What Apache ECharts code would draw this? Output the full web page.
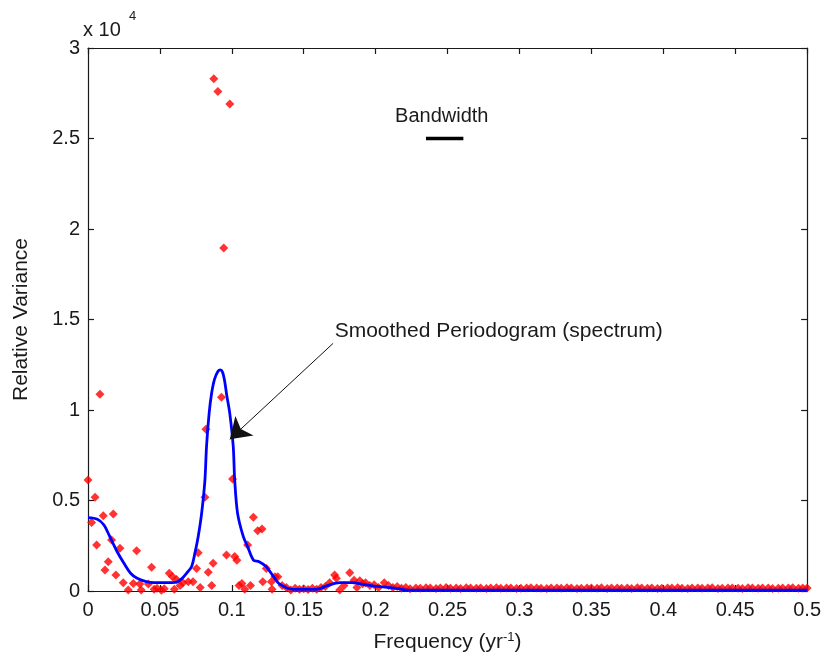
<!DOCTYPE html>
<html>
<head>
    <meta charset="UTF-8">
    <title>Smoothed Periodogram</title>
    <script src="https://cdn.jsdelivr.net/npm/echarts@6/dist/echarts.min.js"></script>
    <style>
        html, body { margin: 0; padding: 0; background: #fff; }
    </style>
</head>
<body>
<div id="main" style="width: 824px; height: 662px;"></div>
<script>
    // raw periodogram (red dots)
    var periodFreq = [
        0.000, 0.0025, 0.0049, 0.006, 0.0083, 0.0106, 0.0118, 0.0141, 0.0164, 0.0176,
        0.0194, 0.0222, 0.0245, 0.028, 0.0315, 0.0338, 0.036, 0.037, 0.042, 0.0442,
        0.046, 0.048, 0.051, 0.053, 0.0565, 0.0588, 0.060, 0.0616, 0.064, 0.066,
        0.0697, 0.073, 0.0755, 0.0766, 0.078, 0.0813, 0.082, 0.0836, 0.086, 0.087,
        0.0875, 0.0903, 0.0928, 0.0944, 0.0963, 0.0986, 0.1005, 0.102, 0.1035, 0.105,
        0.107, 0.109, 0.111, 0.113, 0.115, 0.118, 0.121, 0.1215, 0.124, 0.1275,
        0.128, 0.130, 0.132, 0.135, 0.138, 0.141, 0.144, 0.147, 0.150, 0.153,
        0.156, 0.159, 0.162, 0.165, 0.168, 0.1715, 0.1727, 0.175, 0.178, 0.182,
        0.185, 0.187, 0.189, 0.191, 0.193, 0.196, 0.199, 0.202, 0.206, 0.209,
        0.212, 0.215, 0.218, 0.221, 0.224,
        0.228, 0.231, 0.235, 0.238, 0.242, 0.245, 0.249, 0.252, 0.256, 0.259,
        0.263, 0.266, 0.270, 0.273, 0.277, 0.280, 0.284, 0.287, 0.291, 0.294,
        0.298, 0.301, 0.305, 0.308, 0.312, 0.315, 0.319, 0.322, 0.326, 0.329,
        0.333, 0.336, 0.340, 0.343, 0.347, 0.350, 0.354, 0.357, 0.361, 0.364,
        0.368, 0.371, 0.375, 0.378, 0.382, 0.385, 0.389, 0.392, 0.396, 0.399,
        0.403, 0.406, 0.410, 0.413, 0.417, 0.420, 0.424, 0.427, 0.431, 0.434,
        0.438, 0.441, 0.445, 0.448, 0.452, 0.455, 0.459, 0.462, 0.466, 0.469,
        0.473, 0.476, 0.480, 0.483, 0.487, 0.490, 0.494, 0.497, 0.500
    ];
    var periodPower = [
        6130, 3790, 5180, 2540, 10870, 4160, 1160, 1620, 2820, 4250,
        880, 2360, 460, 50, 420, 2230, 390, 50, 390, 1310,
        100, 150, 40, 120, 980, 790, 100, 640, 300, 450,
        510, 510, 1250, 2120, 200, 5180, 8930, 1030, 300, 1530,
        28300, 27600, 10700, 18950, 1990, 26900, 6190, 1900, 1700, 300,
        420, 100, 2540, 300, 4070, 3330, 3430, 510, 1250, 510,
        100, 790, 790, 300, 200, 50, 150, 100, 120, 80,
        150, 100, 200, 250, 450, 880, 700, 50, 300, 1010,
        600, 200, 570, 400, 450, 300, 350, 200, 460, 300,
        200, 250, 150, 200, 120,
        170, 150, 180, 160, 140, 170, 190, 150, 160, 140,
        180, 160, 150, 170, 140, 160, 180, 150, 170, 160,
        140, 150, 170, 180, 160, 150, 140, 170, 160, 150,
        180, 160, 140, 150, 170, 160, 150, 180, 140, 160,
        170, 150, 160, 140, 180, 170, 150, 160, 140, 150,
        170, 160, 180, 150, 140, 160, 170, 150, 160, 180,
        140, 150, 170, 160, 150, 140, 180, 160, 150, 170,
        160, 140, 150, 170, 160, 180, 150, 160, 170
    ];

    // smoothed spectrum (blue line)
    var spectrumFreq = [
        0, 0.0065, 0.011, 0.0146, 0.0169, 0.0203, 0.025, 0.0296, 0.0342, 0.0412,
        0.0528, 0.062, 0.0655, 0.0685, 0.072, 0.0743, 0.0766, 0.079, 0.0813, 0.0824,
        0.0842, 0.0859, 0.088, 0.0905, 0.092, 0.0935, 0.095, 0.0965, 0.0986, 0.101,
        0.102, 0.104, 0.108, 0.111, 0.115, 0.119, 0.124, 0.129, 0.133, 0.1426,
        0.159, 0.166, 0.175, 0.184, 0.191, 0.203, 0.214, 0.221, 0.25, 0.3,
        0.4, 0.5
    ];
    var spectrumPower = [
        4050, 3960, 3650, 3100, 2720, 2170, 1530, 980, 700, 510,
        460, 510, 700, 980, 1340, 2080, 3000, 4290, 6130, 7970,
        9800, 10900, 11700, 12150, 12220, 12100, 11600, 10800, 9800, 7970,
        6130, 4290, 3000, 2450, 1710, 1620, 1340, 790, 390, 90,
        90, 280, 460, 460, 370, 240, 150, 60, 50, 50,
        50, 50
    ];

    // bandwidth bar
    var bandFreq = [0.235, 0.261];
    var bandLevel = 25000;

    var yTicks = [0, 5000, 10000, 15000, 20000, 25000, 30000];

    var font = 'Liberation Sans, Arial, sans-serif';
    var ink = '#1a1a1a';

    var dots = periodFreq.map(function (f, i) { return [f, periodPower[i]]; });
    var curve = spectrumFreq.map(function (f, i) { return [f, spectrumPower[i]]; });
    var band = bandFreq.map(function (f) { return [f, bandLevel]; });

    var chart = echarts.init(document.getElementById('main'), null, {renderer: 'canvas'});

    // top and right axes only close the box
    var frameAxis = {
        axisLine: {show: true, onZero: false, lineStyle: {color: ink, width: 1.2}},
        axisTick: {show: true, inside: true, length: 6, lineStyle: {color: ink, width: 1.2}},
        axisLabel: {show: false},
        splitLine: {show: false}
    };

    var option = {
        animation: false,
        backgroundColor: '#fff',
        textStyle: {fontFamily: font},
        grid: {left: 88, right: 16, top: 48, bottom: 71, containLabel: false},
        xAxis: [
            {
                type: 'value', min: 0, max: 0.5, interval: 0.05, position: 'bottom',
                axisLine: {show: true, onZero: false, lineStyle: {color: ink, width: 1.2}},
                axisTick: {show: true, inside: true, length: 6, lineStyle: {color: ink, width: 1.2}},
                axisLabel: {color: ink, fontSize: 20, fontFamily: font, margin: 9,
                    formatter: function (v) { return String(Math.round(v * 100) / 100); }},
                splitLine: {show: false},
                name: '{t|Frequency (yr}{s|-1}{t|)}',
                nameLocation: 'middle',
                nameGap: 40,
                nameTextStyle: {
                    rich: {
                        t: {fontSize: 21, color: ink, fontFamily: font},
                        s: {fontSize: 13, color: ink, fontFamily: font, verticalAlign: 'top', padding: [0, 0, 10, 0]}
                    }
                }
            },
            Object.assign({type: 'value', min: 0, max: 0.5, interval: 0.05, position: 'top'}, frameAxis)
        ],
        yAxis: [
            {
                type: 'value', min: 0, max: 30000, interval: 5000, position: 'left',
                axisLine: {show: true, onZero: false, lineStyle: {color: ink, width: 1.2}},
                axisTick: {show: true, inside: true, length: 6, lineStyle: {color: ink, width: 1.2}},
                axisLabel: {color: ink, fontSize: 20, fontFamily: font, margin: 8,
                    formatter: function (v) { return yTicks.indexOf(v) >= 0 ? String(v / 10000) : ''; }},
                splitLine: {show: false},
                name: 'Relative Variance',
                nameLocation: 'middle',
                nameGap: 56,
                nameTextStyle: {fontSize: 21, color: ink, fontFamily: font}
            },
            Object.assign({type: 'value', min: 0, max: 30000, interval: 5000, position: 'right'}, frameAxis)
        ],
        series: [
            {
                name: 'Periodogram',
                type: 'scatter',
                data: dots,
                symbol: 'diamond',
                symbolSize: 9,
                itemStyle: {color: '#ff0000'},
                z: 2
            },
            {
                name: 'Spectrum',
                type: 'line',
                data: curve,
                smooth: 0.3,
                showSymbol: false,
                lineStyle: {color: '#0000ff', width: 2.8},
                z: 3
            },
            {
                name: 'Bandwidth',
                type: 'line',
                data: band,
                showSymbol: false,
                lineStyle: {color: '#000', width: 3.5},
                z: 4,
                markLine: {
                    silent: true,
                    symbol: ['none', 'arrow'],
                    symbolSize: 20,
                    lineStyle: {color: '#111', width: 1, type: 'solid', opacity: 1},
                    label: {show: false},
                    data: [[
                        {coord: [0.1704, 13680], symbol: 'none'},
                        {coord: [0.0986, 8380], symbol: 'arrow', symbolSize: 20}
                    ]]
                }
            }
        ]
    };

    chart.setOption(option);

    // text annotations placed through the axes
    var pBand = chart.convertToPixel({gridIndex: 0}, [0.246, 26200]);
    var pSmooth = chart.convertToPixel({gridIndex: 0}, [0.1715, 14330]);
    var pTop = chart.convertToPixel({gridIndex: 0}, [0, 30000]);

    chart.setOption({
        graphic: [
            {
                type: 'text', x: pBand[0], y: pBand[1],
                style: {text: 'Bandwidth', font: '20px ' + font, fill: ink, textAlign: 'center', textVerticalAlign: 'middle'}
            },
            {
                type: 'text', x: pSmooth[0], y: pSmooth[1],
                style: {text: 'Smoothed Periodogram (spectrum)', font: '21px ' + font, fill: ink, textAlign: 'left', textVerticalAlign: 'middle'}
            },
            {
                type: 'text', x: pTop[0] - 5, y: pTop[1] - 18,
                style: {text: 'x 10', font: '20px ' + font, fill: ink, textAlign: 'left', textVerticalAlign: 'middle'}
            },
            {
                type: 'text', x: pTop[0] + 41, y: pTop[1] - 32,
                style: {text: '4', font: '13px ' + font, fill: ink, textAlign: 'left', textVerticalAlign: 'middle'}
            }
        ]
    });
</script>
</body>
</html>
